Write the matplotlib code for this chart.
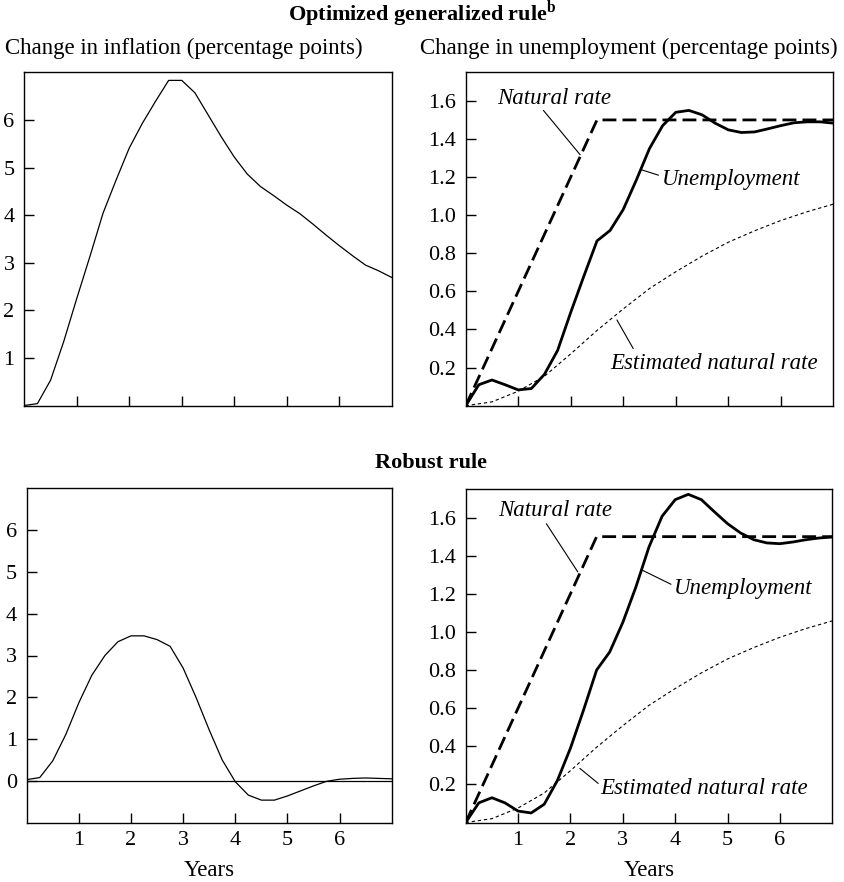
import matplotlib
matplotlib.use('Agg')
import matplotlib.pyplot as plt
import numpy as np

plt.rcParams['font.family'] = ['Liberation Serif', 'DejaVu Serif']
plt.rcParams['mathtext.fontset'] = 'custom'
plt.rcParams['mathtext.bf'] = 'Liberation Serif:bold'
plt.rcParams['mathtext.rm'] = 'Liberation Serif'

# quarterly horizon, years 0..7
years = np.arange(29) * 0.25

# optimized generalized rule
infl_opt = [0.0, 0.04, 0.53, 1.34, 2.25, 3.13, 4.04, 4.74, 5.41, 5.93,
            6.39, 6.83, 6.83, 6.57, 6.11, 5.65, 5.22, 4.86, 4.60, 4.41,
            4.21, 4.03, 3.81, 3.58, 3.36, 3.15, 2.95, 2.83, 2.69]
unemp_opt = [0.0, 0.11, 0.135, 0.11, 0.083, 0.09, 0.165, 0.29, 0.49, 0.68,
             0.865, 0.92, 1.03, 1.185, 1.35, 1.47, 1.54, 1.55, 1.527, 1.483,
             1.448, 1.434, 1.437, 1.453, 1.47, 1.485, 1.49, 1.49, 1.483]

# robust rule
infl_rob = [0.03, 0.08, 0.48, 1.11, 1.87, 2.53, 3.0, 3.33, 3.47, 3.47,
            3.38, 3.22, 2.70, 1.99, 1.22, 0.50, -0.02, -0.34, -0.46, -0.46,
            -0.36, -0.24, -0.12, -0.01, 0.04, 0.06, 0.07, 0.06, 0.05]
unemp_rob = [0.0, 0.103, 0.13, 0.103, 0.06, 0.05, 0.096, 0.22, 0.39, 0.59,
             0.80, 0.895, 1.05, 1.236, 1.446, 1.607, 1.694, 1.722, 1.694, 1.63,
             1.568, 1.519, 1.484, 1.467, 1.463, 1.472, 1.484, 1.493, 1.498]

# natural rate path and its estimate (same in both rules)
nat_years = [0, 2.5, 7]
nat_rate = [0, 1.5, 1.5]
est_years = [0, 0.5, 1.0, 1.5, 2.0, 2.5, 3.0, 3.5, 4.0, 4.5, 5.0, 5.5, 6.0, 6.5, 7.0]
est_rate = [0.0, 0.02, 0.076, 0.155, 0.272, 0.395, 0.508, 0.615, 0.703, 0.785,
            0.858, 0.918, 0.972, 1.018, 1.058]

FS = 16.5      # headers, annotations, axis label
TICK_FS = 16
TITLE_FS = 16

fig = plt.figure(figsize=(8.44, 8.82), dpi=100)

W, H = 844.0, 882.0
def axes_px(left, top, right, bottom):
    return fig.add_axes([left / W, 1 - bottom / H, (right - left) / W, (bottom - top) / H])

ax_tl = axes_px(24.3, 72.3, 391.7, 405.5)
ax_tr = axes_px(465.7, 72.3, 833.3, 405.7)
ax_bl = axes_px(26.7, 488.3, 391.7, 822.7)
ax_br = axes_px(465.7, 489.0, 832.3, 822.5)

for ax in (ax_tl, ax_tr, ax_bl, ax_br):
    ax.set_xlim(0, 7)
    ax.set_xticks([1, 2, 3, 4, 5, 6])
    ax.tick_params(direction='in', length=7, width=1, labelsize=TICK_FS)
    ax.tick_params(axis='y', pad=7)
    ax.tick_params(axis='x', pad=6)
    for sp in ax.spines.values():
        sp.set_linewidth(1.0)

ax_tl.tick_params(axis='x', labelbottom=False)
ax_tr.tick_params(axis='x', labelbottom=False)

# inflation panels
ax_tl.plot(years, infl_opt, color='black', lw=0.9)
ax_tl.set_ylim(0, 7)
ax_tl.set_yticks([1, 2, 3, 4, 5, 6])

ax_bl.plot(years, infl_rob, color='black', lw=0.9)
ax_bl.axhline(0, color='black', lw=0.9)
ax_bl.set_ylim(-1, 7)
ax_bl.set_yticks([0, 1, 2, 3, 4, 5, 6])


def unemp_panel(ax, unemp, labels):
    ax.plot(nat_years, nat_rate, color='black', lw=2.0, linestyle=(0, (5, 2.2)))
    ax.plot(years, unemp, color='black', lw=2.0)
    ax.plot(est_years, est_rate, color='black', lw=0.8, linestyle=(0, (3, 2.5)))
    ax.set_ylim(0, 1.75)
    ax.set_yticks([0.2, 0.4, 0.6, 0.8, 1.0, 1.2, 1.4, 1.6])
    ax.set_yticklabels(['0.2', '0.4', '0.6', '0.8', '1.0', '1.2', '1.4', '1.6'])
    for text, tpos, p0, p1 in labels:
        ax.annotate('', xy=p1, xytext=p0,
                    arrowprops=dict(arrowstyle='-', lw=0.8, color='black',
                                    shrinkA=0, shrinkB=0))
        ax.text(tpos[0], tpos[1], text, fontsize=FS, style='italic',
                ha='left', va='center')


unemp_panel(ax_tr, unemp_opt, [
    ('Natural rate', (0.59, 1.615), (1.48, 1.55), (2.18, 1.317)),
    ('Unemployment', (3.73, 1.185), (3.35, 1.238), (3.67, 1.21)),
    ('Estimated natural rate', (2.76, 0.223), (2.88, 0.45), (3.19, 0.30)),
])
unemp_panel(ax_br, unemp_rob, [
    ('Natural rate', (0.62, 1.638), (1.54, 1.568), (2.14, 1.315)),
    ('Unemployment', (3.97, 1.228), (3.35, 1.327), (3.92, 1.25)),
    ('Estimated natural rate', (2.56, 0.179), (2.18, 0.284), (2.53, 0.205)),
])

for ax in (ax_bl, ax_br):
    ax.set_xticklabels(['1', '2', '3', '4', '5', '6'])
    ax.set_xlabel('Years', fontsize=FS, labelpad=7)

fig.text(0.5, 1 - 14 / H, r'Optimized generalized rule$^{\mathbf{b}}$',
         fontsize=TITLE_FS, fontweight='bold', ha='center', va='center')
fig.text(5 / W, 1 - 48.5 / H, 'Change in inflation (percentage points)',
         fontsize=FS, ha='left', va='center')
fig.text(420 / W, 1 - 48.5 / H, 'Change in unemployment (percentage points)',
         fontsize=FS, ha='left', va='center')
fig.text(431 / W, 1 - 463 / H, 'Robust rule',
         fontsize=TITLE_FS, fontweight='bold', ha='center', va='center')

fig.savefig('out.png', dpi=100)
